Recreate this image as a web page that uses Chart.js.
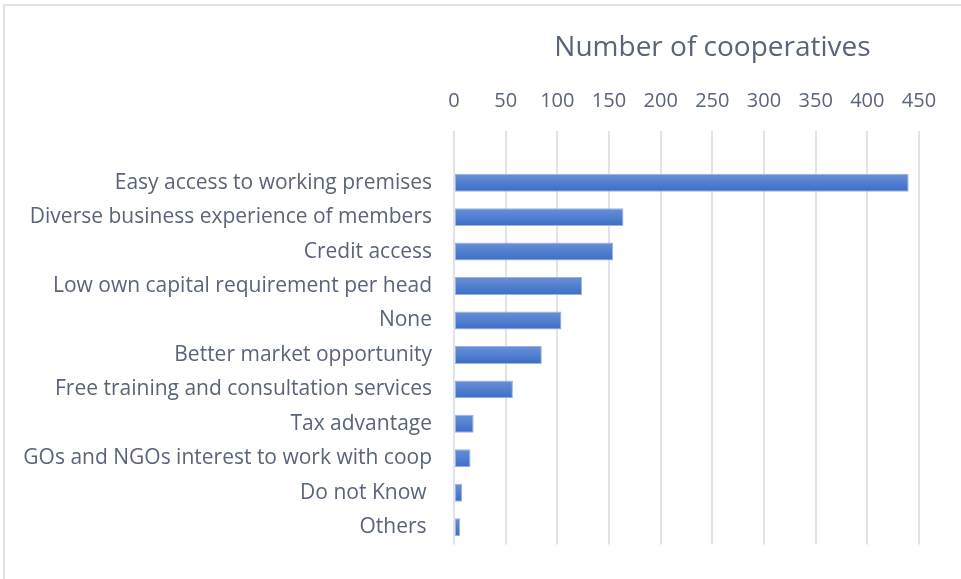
<!DOCTYPE html>
<html>
<head>
<meta charset="utf-8">
<script src="https://cdn.jsdelivr.net/npm/chart.js@4"></script>
<style>
  html, body { margin: 0; padding: 0; background: #ffffff; }
  #wrap { position: relative; width: 961px; height: 579px; overflow: hidden; }
  #frame { position: absolute; left: 3px; top: 4px; width: 980px; height: 600px;
           border-top: 2px solid #dfe3e8; border-left: 2px solid #dfe3e8; box-sizing: border-box; }
  canvas { position: absolute; left: 0; top: 0; }
</style>
</head>
<body>
<div id="wrap">
  <div id="frame"></div>
  <canvas id="c" width="961" height="579"></canvas>
</div>
<script>
// Reasons given for choosing the cooperative form (count of cooperatives)
const categories = [
  '',
  'Easy access to working premises',
  'Diverse business experience of members',
  'Credit access',
  'Low own capital requirement per head',
  'None',
  'Better market opportunity',
  'Free training and consultation services',
  'Tax advantage',
  'GOs and NGOs interest to work with coop',
  'Do not Know ',
  'Others '
];
const cooperatives = [null, 440, 164, 154, 124, 104, 85, 57, 19, 16, 8, 6];
const xTicks = [0, 50, 100, 150, 200, 250, 300, 350, 400, 450];
const axisTitle = 'Number of cooperatives';

const FONT = "'Open Sans', 'DejaVu Sans', sans-serif";
const TEXT = '#59647a';
const BAR_PCT = 0.52;

function barFill(ctx) {
  const chart = ctx.chart;
  const area = chart.chartArea;
  if (!area || ctx.dataIndex === undefined) return '#4a78cc';
  const band = (area.bottom - area.top) / categories.length;
  const h = band * BAR_PCT;
  const y = chart.scales.y.getPixelForValue(ctx.dataIndex);
  const g = chart.ctx.createLinearGradient(0, y - h / 2, 0, y + h / 2);
  g.addColorStop(0, '#6990d8');
  g.addColorStop(1, '#3b6dc6');
  return g;
}

// Axis title above the value ticks, set a little right of the plot centre
const axisTitlePlugin = {
  id: 'axisTitle',
  afterDraw(chart) {
    const { ctx, chartArea } = chart;
    ctx.save();
    ctx.font = '28px ' + FONT;
    ctx.fillStyle = TEXT;
    ctx.textAlign = 'center';
    ctx.textBaseline = 'middle';
    ctx.fillText(axisTitle, (chartArea.left + chartArea.right) / 2 + 26, 48);
    ctx.restore();
  }
};

new Chart(document.getElementById('c'), {
  type: 'bar',
  data: {
    labels: categories,
    datasets: [{
      data: cooperatives,
      backgroundColor: barFill,
      borderColor: '#9bb3e2',
      borderWidth: 1,
      borderSkipped: false,
      barPercentage: BAR_PCT,
      categoryPercentage: 1
    }]
  },
  options: {
    responsive: false,
    animation: false,
    indexAxis: 'y',
    layout: { padding: { top: 22, right: 42, bottom: 26, left: 0 } },
    plugins: { legend: { display: false }, tooltip: { enabled: false } },
    scales: {
      x: {
        position: 'top',
        min: 0,
        max: 450,
        afterBuildTicks: (s) => { s.ticks = xTicks.map(v => ({ value: v })); },
        afterFit: (s) => { s.height = 109; },
        grid: { color: '#e0e4ea', lineWidth: 2, drawTicks: false },
        border: { display: false },
        ticks: { color: TEXT, font: { family: FONT, size: 20 }, padding: 18, maxRotation: 0 },
        title: { display: false }
      },
      y: {
        afterFit: (s) => { s.width = 454; },
        grid: { display: false, drawTicks: false },
        border: { display: false },
        ticks: {
          color: TEXT, font: { family: FONT, size: 21 }, padding: 22, autoSkip: false
        }
      }
    }
  },
  plugins: [axisTitlePlugin]
});
</script>
</body>
</html>
